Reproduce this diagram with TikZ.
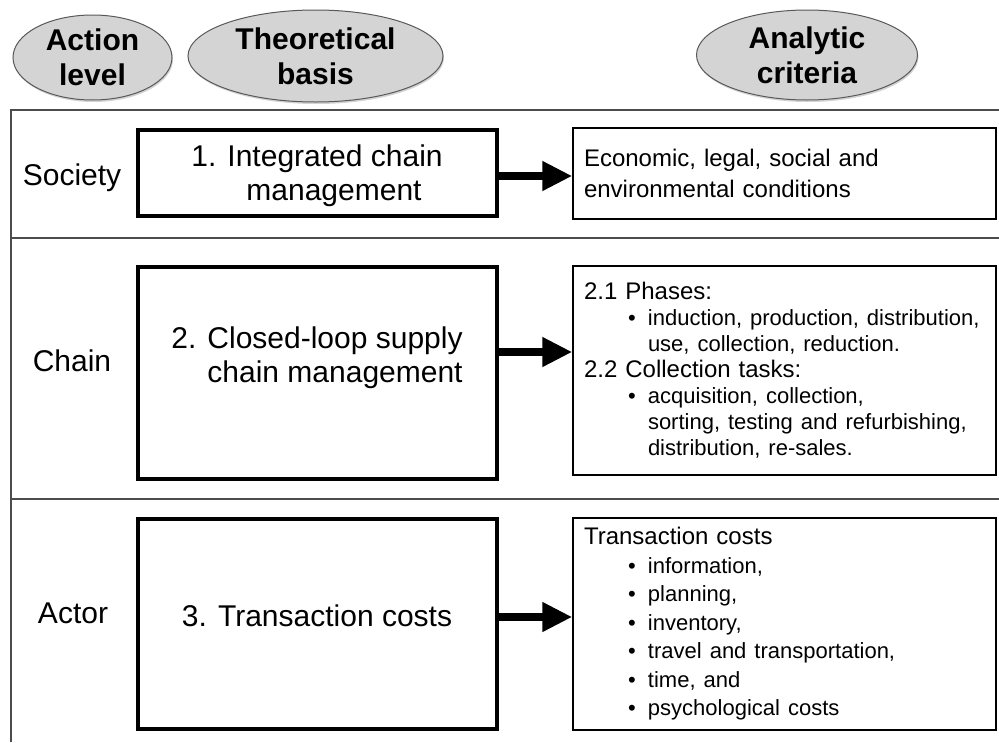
\documentclass[tikz,border=0pt]{standalone}
\usepackage{fontspec}
\setmainfont{Liberation Sans}
\usetikzlibrary{shapes,arrows,positioning,calc,shadows,arrows.meta}

\newcommand{\crithead}{\fontsize{24}{\baselineskip}\selectfont}
\newcommand{\critem}{\fontsize{22}{\baselineskip}\selectfont\hspace*{44pt}\makebox[20pt][l]{\textbullet}}
\newcommand{\critgap}{\fontsize{22}{\baselineskip}\selectfont\hspace*{64pt}}

\begin{document}
\begin{tikzpicture}[x=1pt,y=-1pt,
    headbox/.style={ellipse, draw=black!65, line width=1pt, fill=black!17, inner sep=0pt,
        drop shadow={shadow xshift=1pt, shadow yshift=-2pt, opacity=0.35},
        align=center, font=\bfseries\fontsize{30}{35}\selectfont},
    rowlabel/.style={font=\fontsize{30}{35}\selectfont},
    theory/.style={draw, line width=4pt, minimum width=359pt},
    theorytext/.style={align=center, font=\fontsize{30}{34}\selectfont},
    criteria/.style={draw, line width=1.5pt, minimum width=423pt, text width=401pt,
        inner xsep=11pt, align=left},
    gridline/.style={draw=black!70, line width=1.2pt},
    flowarrow/.style={line width=8pt, -{Triangle[length=30pt,width=28pt]}}]
    \useasboundingbox (0,0) rectangle (999,742);

    % column headers
    \node[headbox, minimum width=159pt, minimum height=85pt] (hlevel) at (92.5,57.5) {Action\\level};
    \node[headbox, minimum width=255pt, minimum height=92pt] (hbasis) at (315.5,56) {Theoretical\\basis};
    \node[headbox, minimum width=221pt, minimum height=90pt] (hcrit) at (807,55) {Analytic\\criteria};

    % rows
    \draw[gridline] (999,110) -- (11,110) -- (11,742);
    \draw[gridline] (11,238) -- (999,238);
    \draw[gridline] (11,499) -- (999,499);

    \node[rowlabel] (society) at (72,178) {Society};
    \node[rowlabel] (chain) at (72,361) {Chain};
    \node[rowlabel] (actor) at (73,613) {Actor};

    % theoretical basis
    \node[theory, minimum height=86pt] (t1) at (317,173) {};
    \node[theory, minimum height=212pt] (t2) at (317,373) {};
    \node[theory, minimum height=210pt] (t3) at (317,624) {};
    \node[theorytext] (t1txt) at ([yshift=-3pt]t1.center) {1. Integrated chain\\\hspace*{34pt}management};
    \node[theorytext, align=right] (t2txt) at ([yshift=15pt]t2.center) {2. Closed-loop supply\\chain management};
    \node[theorytext] (t3txt) at ([yshift=8pt]t3.center) {3. Transaction costs};

    % analytic criteria
    \node[criteria, minimum height=91pt, font=\fontsize{24}{31}\selectfont] (c1) at (784.5,173.5)
        {Economic, legal, social and\\environmental conditions};
    \node[criteria, minimum height=209pt, font=\fontsize{24}{26}\selectfont] (c2) at (784.5,370.5)
        {\crithead 2.1 Phases:\\
         \critem induction, production, distribution,\\
         \critgap use, collection, reduction.\\
         \crithead 2.2 Collection tasks:\\
         \critem acquisition, collection,\\
         \critgap sorting, testing and refurbishing,\\
         \critgap distribution, re-sales.};
    \node[criteria, minimum height=212pt, font=\fontsize{24}{28.5}\selectfont] (c3) at (784.5,624)
        {\crithead Transaction costs\\
         \critem information,\\
         \critem planning,\\
         \critem inventory,\\
         \critem travel and transportation,\\
         \critem time, and\\
         \critem psychological costs};

    \draw[flowarrow] (t1.east |- 0,176) -- (c1.west |- 0,176);
    \draw[flowarrow] (t2.east |- 0,352) -- (c2.west |- 0,352);
    \draw[flowarrow] (t3.east |- 0,617) -- (c3.west |- 0,617);
\end{tikzpicture}
\end{document}
